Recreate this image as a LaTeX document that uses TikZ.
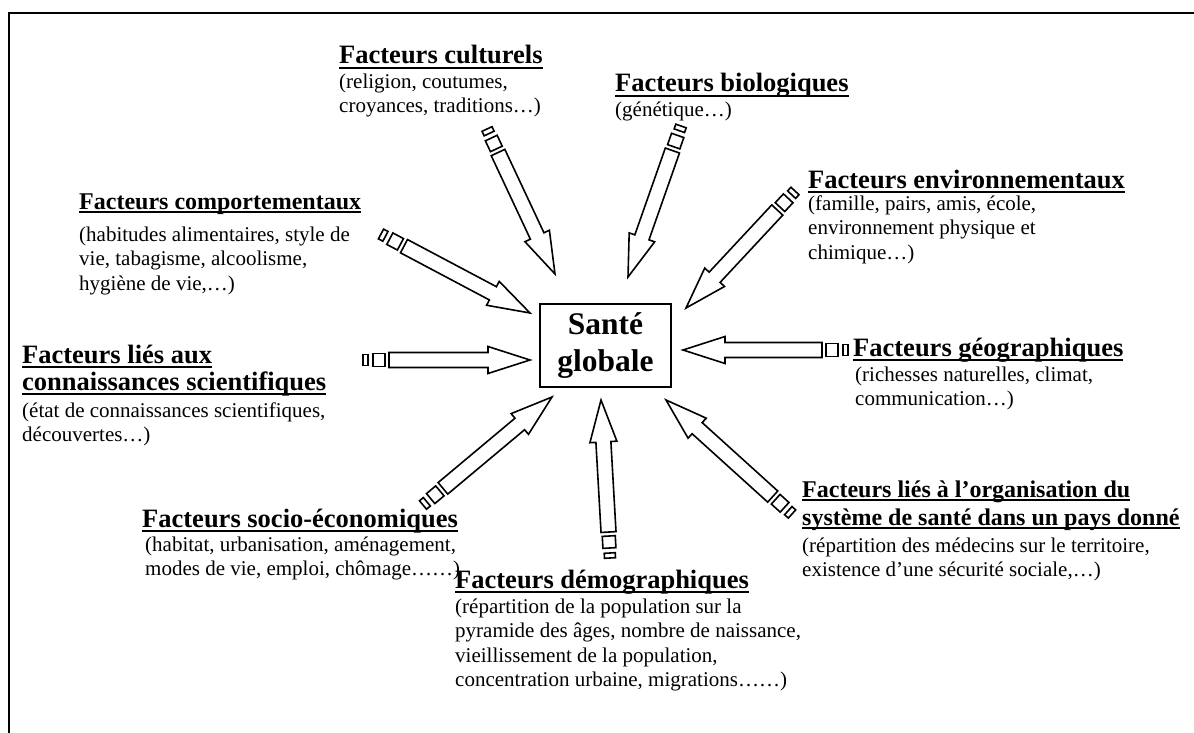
\documentclass[tikz,border=0pt]{standalone}
\usepackage{fontspec}
\setmainfont{Liberation Serif}
\usetikzlibrary{calc}

\newcommand{\ulin}[1]{\setbox0=\hbox{#1}\leavevmode\rlap{\rule[-0.17em]{\wd0}{0.075em}}\box0}

\newcommand{\stripedarrow}[2]{%
 \path (#1); \pgfgetlastxy{\tailx}{\taily}%
 \path (#2); \pgfgetlastxy{\tipx}{\tipy}%
 \pgfmathsetmacro{\arrang}{atan2((\tipy)-(\taily),(\tipx)-(\tailx))}%
 \pgfmathsetmacro{\arrlen}{veclen((\tipx)-(\tailx),(\tipy)-(\taily))}%
 \begin{scope}[shift={(#1)},rotate=\arrang]
  \draw[arrowline] (0,-5.5) rectangle (5,5.5);
  \draw[arrowline] (10,-6.5) rectangle (22,6.5);
  \draw[arrowline] (26,-7.5) -- (\arrlen-42,-7.5) -- (\arrlen-42,-13.5) -- (\arrlen,0)
   -- (\arrlen-42,13.5) -- (\arrlen-42,7.5) -- (26,7.5) -- cycle;
 \end{scope}}

\tikzset{
 titlebig/.style={anchor=base west, inner sep=0, align=left, font=\fontsize{26.5}{27.5}\selectfont\bfseries},
 titlesmall/.style={anchor=base west, inner sep=0, align=left, font=\fontsize{24}{28}\selectfont\bfseries},
 bodytext/.style={anchor=base west, inner sep=0, align=left, font=\fontsize{21}{24.5}\selectfont},
 arrowline/.style={line width=1.6pt, fill=white, line join=miter},
}

\begin{document}
\begin{tikzpicture}[x=1pt,y=-1pt]
\useasboundingbox (0,0) rectangle (1194,733);
\draw[line width=2.5pt] (9,745) |- (1200,13);

\node[draw, line width=1.8pt, minimum width=131pt, minimum height=83pt, inner sep=0, align=center,
 font=\fontsize{31.5}{37}\selectfont\bfseries] (sante) at (605.5,345.5) {Santé\\globale};

\coordinate (cultail) at (487,129);  \coordinate (cultip) at (555,274);
\coordinate (biotail) at (681,126);  \coordinate (biotip) at (628,277);
\coordinate (comptail) at (381,234); \coordinate (comptip) at (530,313);
\coordinate (envtail) at (795,191);  \coordinate (envtip) at (686,308);
\coordinate (conntail) at (363,360); \coordinate (conntip) at (530,360);
\coordinate (geotail) at (848,350);  \coordinate (geotip) at (683,350);
\coordinate (soctail) at (423,505);  \coordinate (soctip) at (552,397);
\coordinate (demtail) at (610,558);  \coordinate (demtip) at (601,400);
\coordinate (orgtail) at (792,514);  \coordinate (orgtip) at (666,400);

\stripedarrow{cultail}{cultip}
\stripedarrow{biotail}{biotip}
\stripedarrow{comptail}{comptip}
\stripedarrow{envtail}{envtip}
\stripedarrow{conntail}{conntip}
\stripedarrow{geotail}{geotip}
\stripedarrow{soctail}{soctip}
\stripedarrow{demtail}{demtip}
\stripedarrow{orgtail}{orgtip}

% base anchor = baseline of the last line
\node[titlebig] (cultT) at (339,64) {\ulin{Facteurs culturels}};
\node[bodytext] (cultB) at (339,113) {(religion, coutumes,\\croyances, traditions…)};
\node[titlebig] (bioT) at (615,92) {\ulin{Facteurs biologiques}};
\node[bodytext] (bioB) at (615,117) {(génétique…)};
\node[titlesmall] (compT) at (79,209) {\ulin{Facteurs comportementaux}};
\node[bodytext] (compB) at (79,290) {(habitudes alimentaires, style de\\vie, tabagisme, alcoolisme,\\hygiène de vie,…)};
\node[titlebig] (envT) at (808,188) {\ulin{Facteurs environnementaux}};
\node[bodytext] (envB) at (808,259) {(famille, pairs, amis, école,\\environnement physique et\\chimique…)};
\node[titlebig] (connT) at (22,390.5) {\ulin{Facteurs liés aux}\\\ulin{connaissances scientifiques}};
\node[bodytext] (connB) at (22,441.5) {(état de connaissances scientifiques,\\découvertes…)};
\node[titlebig] (geoT) at (853,356) {\ulin{Facteurs géographiques}};
\node[bodytext] (geoB) at (855,405.5) {(richesses naturelles, climat,\\communication…)};
\node[titlebig] (socT) at (142,527) {\ulin{Facteurs socio-économiques}};
\node[bodytext] (socB) at (145,575.5) {(habitat, urbanisation, aménagement,\\modes de vie, emploi, chômage……)};
\node[titlebig] (demT) at (455,588) {\ulin{Facteurs démographiques}};
\node[bodytext] (demB) at (455,686.5) {(répartition de la population sur la\\pyramide des âges, nombre de naissance,\\vieillissement de la population,\\concentration urbaine, migrations……)};
\node[titlesmall] (orgT) at (802,525) {\ulin{Facteurs liés à l’organisation du}\\\ulin{système de santé dans un pays donné}};
\node[bodytext] (orgB) at (802,576.5) {(répartition des médecins sur le territoire,\\existence d’une sécurité sociale,…)};
\end{tikzpicture}
\end{document}
